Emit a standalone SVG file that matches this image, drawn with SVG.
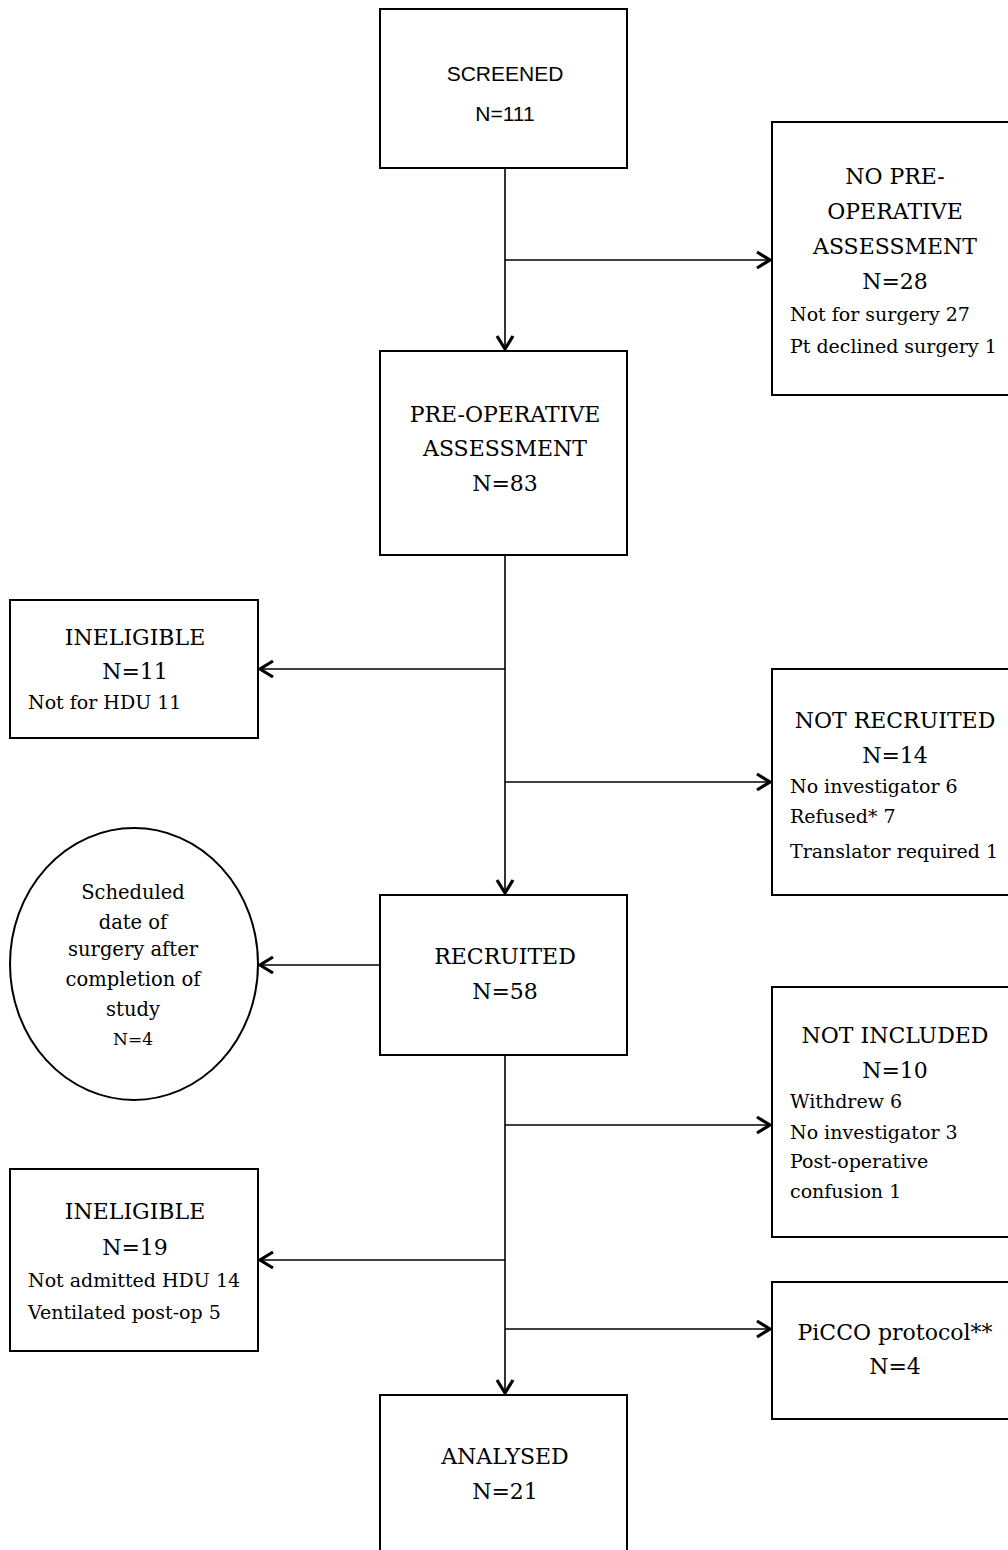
<svg xmlns="http://www.w3.org/2000/svg" width="1008" height="1550" viewBox="0 0 1008 1550">
<defs>
<style>
.box{fill:#fff;stroke:#000;stroke-width:2}
.ln{fill:none;stroke:#000;stroke-width:1.6}
.h{font-family:"DejaVu Serif","Liberation Serif",serif;font-size:22px;fill:#000;text-anchor:middle}
.s{font-family:"DejaVu Serif","Liberation Serif",serif;font-size:19px;fill:#000}
.c{font-family:"DejaVu Serif","Liberation Serif",serif;font-size:19.5px;fill:#000;text-anchor:middle}
.sans{font-family:"Liberation Sans","Open Sans",sans-serif;font-size:21px;fill:#000;text-anchor:middle}
</style>
<marker id="ah" markerUnits="userSpaceOnUse" markerWidth="20" markerHeight="22" viewBox="0 0 20 22" refX="16" refY="11" orient="auto">
<path d="M3,3 L16,11 L3,19" fill="none" stroke="#000" stroke-width="3.2" stroke-linejoin="miter"/>
</marker>
</defs>
<rect width="1008" height="1550" fill="#fff"/>
<g id="connectors">
<line class="ln" x1="505" y1="168" x2="505" y2="349" marker-end="url(#ah)"/>
<line class="ln" x1="505" y1="260" x2="770" y2="260" marker-end="url(#ah)"/>
<line class="ln" x1="505" y1="555" x2="505" y2="893" marker-end="url(#ah)"/>
<line class="ln" x1="505" y1="669" x2="260" y2="669" marker-end="url(#ah)"/>
<line class="ln" x1="505" y1="782" x2="770" y2="782" marker-end="url(#ah)"/>
<line class="ln" x1="380" y1="965" x2="260" y2="965" marker-end="url(#ah)"/>
<line class="ln" x1="505" y1="1055" x2="505" y2="1393" marker-end="url(#ah)"/>
<line class="ln" x1="505" y1="1125" x2="770" y2="1125" marker-end="url(#ah)"/>
<line class="ln" x1="505" y1="1260" x2="260" y2="1260" marker-end="url(#ah)"/>
<line class="ln" x1="505" y1="1329" x2="770" y2="1329" marker-end="url(#ah)"/>
</g>
<g id="screened">
<rect class="box" x="380" y="9" width="247" height="159"/>
<text class="sans" x="505" y="81">SCREENED</text>
<text class="sans" x="505" y="121">N=111</text>
</g>
<g id="no-preop">
<rect class="box" x="772" y="122" width="240" height="273"/>
<text class="h" x="895" y="184">NO PRE-</text>
<text class="h" x="895" y="219">OPERATIVE</text>
<text class="h" x="895" y="254">ASSESSMENT</text>
<text class="h" x="895" y="289">N=28</text>
<text class="s" x="790" y="321">Not for surgery 27</text>
<text class="s" x="790" y="353">Pt declined surgery 1</text>
</g>
<g id="preop">
<rect class="box" x="380" y="351" width="247" height="204"/>
<text class="h" x="505" y="422">PRE-OPERATIVE</text>
<text class="h" x="505" y="456">ASSESSMENT</text>
<text class="h" x="505" y="491">N=83</text>
</g>
<g id="ineligible1">
<rect class="box" x="10" y="600" width="248" height="138"/>
<text class="h" x="135" y="645">INELIGIBLE</text>
<text class="h" x="135" y="679">N=11</text>
<text class="s" x="28" y="709">Not for HDU 11</text>
</g>
<g id="not-recruited">
<rect class="box" x="772" y="669" width="240" height="226"/>
<text class="h" x="895" y="728">NOT RECRUITED</text>
<text class="h" x="895" y="763">N=14</text>
<text class="s" x="790" y="793">No investigator 6</text>
<text class="s" x="790" y="823">Refused* 7</text>
<text class="s" x="790" y="858">Translator required 1</text>
</g>
<g id="scheduled">
<ellipse class="box" cx="134" cy="964" rx="124" ry="136" stroke-width="1.5"/>
<text class="c" x="133" y="899">Scheduled</text>
<text class="c" x="133" y="929">date of</text>
<text class="c" x="133" y="956">surgery after</text>
<text class="c" x="133" y="986">completion of</text>
<text class="c" x="133" y="1016">study</text>
<text class="c" x="133" y="1045" style="font-size:17px">N=4</text>
</g>
<g id="recruited">
<rect class="box" x="380" y="895" width="247" height="160"/>
<text class="h" x="505" y="964">RECRUITED</text>
<text class="h" x="505" y="999">N=58</text>
</g>
<g id="not-included">
<rect class="box" x="772" y="987" width="240" height="250"/>
<text class="h" x="895" y="1043">NOT INCLUDED</text>
<text class="h" x="895" y="1078">N=10</text>
<text class="s" x="790" y="1108">Withdrew 6</text>
<text class="s" x="790" y="1139">No investigator 3</text>
<text class="s" x="790" y="1168">Post-operative</text>
<text class="s" x="790" y="1198">confusion 1</text>
</g>
<g id="ineligible2">
<rect class="box" x="10" y="1169" width="248" height="182"/>
<text class="h" x="135" y="1219">INELIGIBLE</text>
<text class="h" x="135" y="1255">N=19</text>
<text class="s" x="28" y="1287">Not admitted HDU 14</text>
<text class="s" x="28" y="1319">Ventilated post-op 5</text>
</g>
<g id="picco">
<rect class="box" x="772" y="1282" width="240" height="137"/>
<text class="h" x="895" y="1340">PiCCO protocol**</text>
<text class="h" x="895" y="1374">N=4</text>
</g>
<g id="analysed">
<rect class="box" x="380" y="1395" width="247" height="170"/>
<text class="h" x="505" y="1464">ANALYSED</text>
<text class="h" x="505" y="1499">N=21</text>
</g>
</svg>
